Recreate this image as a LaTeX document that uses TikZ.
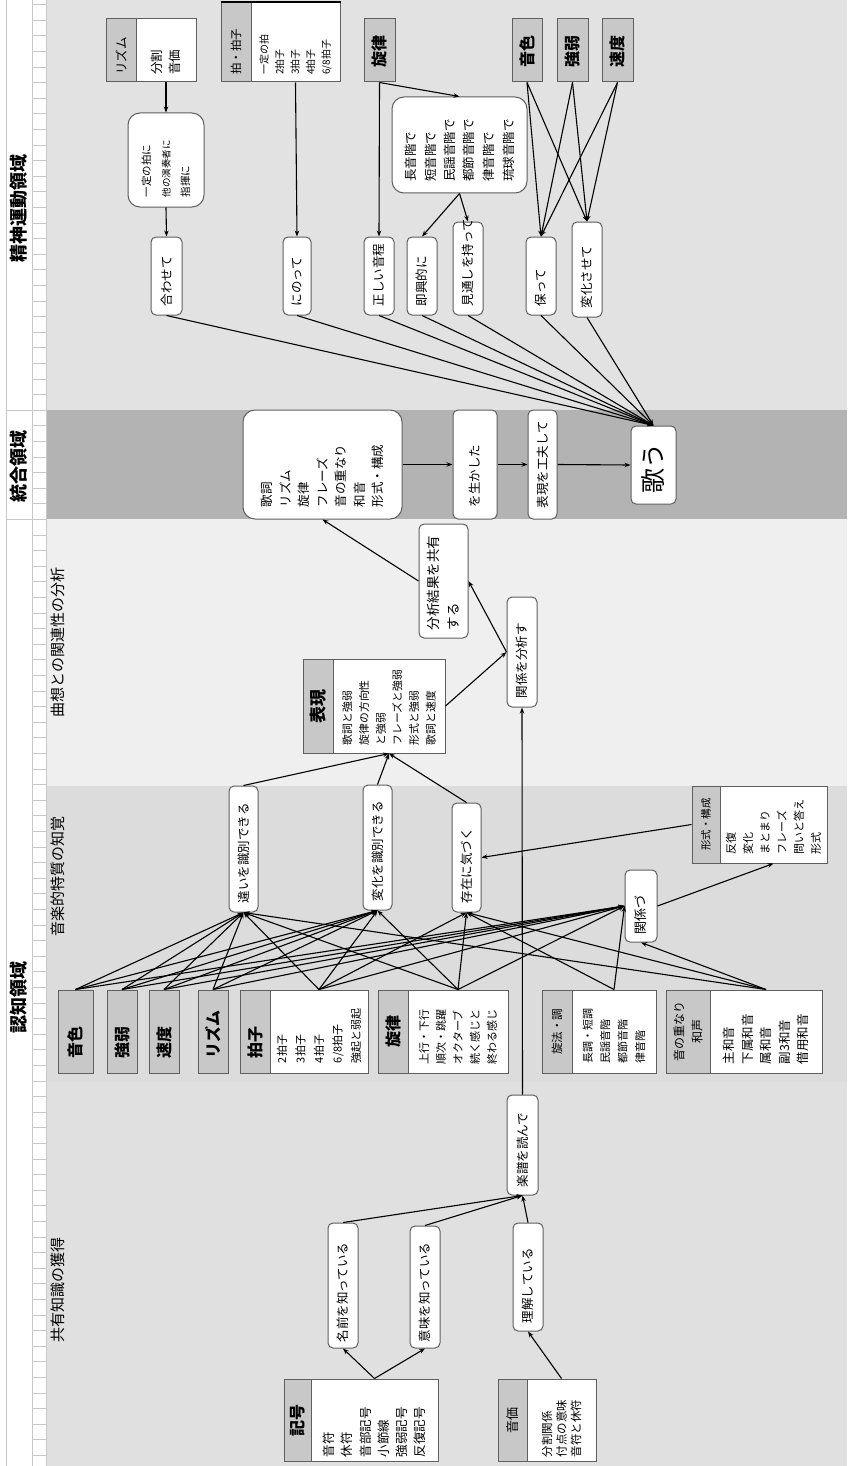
\documentclass[tikz,border=0pt]{standalone}
\usepackage{fontspec}
\setmainfont{Noto Sans CJK JP}
\usetikzlibrary{arrows.meta}
\definecolor{hdr}{RGB}{200,200,200}
\definecolor{bdr}{RGB}{95,95,95}
\definecolor{bandA}{RGB}{226,226,226}
\definecolor{bandB}{RGB}{179,179,179}
\definecolor{bandC}{RGB}{239,239,239}
\definecolor{bandD}{RGB}{220,220,220}
\definecolor{bandE}{RGB}{224,224,224}
\definecolor{rule}{RGB}{200,200,200}
\newcommand\nd[8]{%
  \pgfmathsetmacro\ndcx{(#3+#5)/2}%
  \pgfmathsetmacro\ndcy{(#4+#6)/2}%
  \pgfmathsetmacro\ndL{#6-#4}%
  \pgfmathsetmacro\ndH{#5-#3}%
  \pgfmathsetmacro\ndtw{#6-#4-2*#7}%
  \node[rotate=90,inner xsep=#7pt,inner ysep=0pt,minimum width=\ndL pt,minimum height=\ndH pt,text width=\ndtw pt,align=left,#2] (#1) at (\ndcx,\ndcy) {#8};}
\tikzset{
  box/.style={draw=bdr,line width=1pt,fill=white},
  rbox/.style={box,rounded corners=5pt},
  rbig/.style={box,rounded corners=12pt},
  hd/.style={draw=bdr,line width=1pt,fill=hdr},
  arr/.style={-{Stealth[length=6pt,width=4.5pt]},line width=1.1pt},
  fa/.style={font=\fontsize{12.5}{18}\selectfont},
  fb/.style={font=\bfseries\fontsize{16}{18}\selectfont},
}
\begin{document}
\begin{tikzpicture}[x=1pt,y=-1pt]
\useasboundingbox (0,0) rectangle (847,1466);
% bands
\fill[white] (0,0) rectangle (847,1466);
\fill[bandA] (46,0) rectangle (847,410);
\fill[bandB] (46,410) rectangle (847,519);
\fill[bandC] (46,519) rectangle (847,786);
\fill[bandD] (46,786) rectangle (847,1082);
\fill[bandE] (46,1082) rectangle (847,1466);
\draw[rule,line width=0.8pt] (6,0) -- (6,1466) (32,0) -- (32,1466) (46,0) -- (46,1466);
\foreach \i in {0,...,93} \draw[rule,line width=0.6pt] (32,4.5+\i*15.6) -- (46,4.5+\i*15.6);
\draw[rule,line width=0.8pt] (6,410) -- (46,410) (6,519) -- (46,519);
% headers
\node[rotate=90,font=\bfseries\fontsize{18}{18}\selectfont] (L1) at (19,208) {精神運動領域};
\node[rotate=90,font=\bfseries\fontsize{18}{18}\selectfont] (L2) at (19,466) {統合領域};
\node[rotate=90,font=\bfseries\fontsize{18}{18}\selectfont] (L3) at (19,997) {認知領域};
\node[rotate=90,anchor=west,inner sep=0pt,font=\fontsize{15}{15}\selectfont] (sub1) at (58,718) {曲想との関連性の分析};
\node[rotate=90,anchor=west,inner sep=0pt,font=\fontsize{15}{15}\selectfont] (sub2) at (58,937) {音楽的特質の知覚};
\node[rotate=90,anchor=west,inner sep=0pt,font=\fontsize{15}{15}\selectfont] (sub3) at (58,1343) {共有知識の獲得};

% ---------- psychomotor
\nd{rh1}{hd,fa}{106}{19}{136}{82}{7}{リズム}
\nd{rb1}{box,fa}{136}{19}{196}{82}{7}{分割\\音価}
\nd{hh}{hd,font=\fontsize{11.5}{14}\selectfont}{221}{3}{251}{82}{7}{拍・拍子}
\nd{hb}{box,font=\fontsize{10}{15.5}\selectfont}{251}{3}{340}{82}{7}{一定の拍\\2拍子\\3拍子\\4拍子\\6/8拍子}
\draw[line width=2pt] (hh.north east) -- (hb.south east);
\nd{ps}{hd,fb}{364}{19}{395}{82}{14}{旋律}
\nd{pt}{hd,fb}{512}{19}{542}{82}{14}{音色}
\nd{pk}{hd,fb}{557}{19}{588}{82}{14}{強弱}
\nd{pv}{hd,fb}{602}{19}{633}{82}{14}{速度}
\nd{itei}{rbig,font=\fontsize{10.5}{19.5}\selectfont}{128}{113}{204}{207}{10}{一定の拍に\\{\fontsize{9.5}{19.5}\selectfont 他の演奏者に}\\指揮に}
\nd{scl}{rbig,font=\fontsize{12.5}{19.5}\selectfont}{392}{97}{527}{193}{11}{長音階で\\短音階で\\民謡音階で\\都節音階で\\律音階で\\琉球音階で}
\nd{awase}{rbox,fa}{151}{237}{182}{315}{9}{合わせて}
\nd{noru}{rbox,fa}{283}{237}{311}{315}{9}{にのって}
\nd{seiko}{rbox,fa}{364}{237}{394}{315}{9}{正しい音程}
\nd{sokko}{rbox,fa}{407}{237}{437}{315}{9}{即興的に}
\nd{mito}{rbox,fa}{453}{222}{483}{315}{9}{見通しを持って}
\nd{tamo}{rbox,fa}{526}{237}{556}{315}{9}{保って}
\nd{henka}{rbox,fa}{572}{222}{602}{317}{9}{変化させて}

% ---------- integration
\nd{big}{rbig,font=\fontsize{12.5}{18.5}\selectfont}{243}{410}{402}{519}{12}{歌詞\\リズム\\旋律\\フレーズ\\音の重なり\\和音\\形式・構成}
\nd{ikashi}{rbox,fa}{453}{410}{497}{519}{12}{を生かした}
\nd{kufu}{rbox,fa}{528}{410}{557}{519}{11}{表現を工夫して}
\nd{utau}{rbox,font=\fontsize{25}{25}\selectfont}{631}{426}{676}{504}{11}{歌う}

% ---------- analysis
\nd{kyoyu}{rbox,font=\fontsize{13.5}{20}\selectfont}{419}{524}{468}{638}{8}{分析結果を共有\\する}
\nd{kankei}{rbox,fa}{507}{597}{537}{707}{9}{関係を分析す}
\nd{hyh}{hd,font=\bfseries\fontsize{17}{18}\selectfont,align=center}{303}{659}{333}{753}{8}{表現}
\nd{hyb}{box,font=\fontsize{10.8}{16.7}\selectfont}{333}{659}{445}{753}{8}{歌詞と強弱\\旋律の方向性\\と強弱\\フレーズと強弱\\形式と強弱\\歌詞と速度}

% ---------- perception
\nd{chigai}{rbox,fa}{229}{786}{258}{912}{9}{違いを識別できる}
\nd{henkaS}{rbox,fa}{363}{785}{392}{910}{9}{変化を識別できる}
\nd{sonzai}{rbox,fa}{452}{803}{481}{912}{9}{存在に気づく}
\nd{kankeizu}{rbox,font=\fontsize{13}{18}\selectfont}{625}{870}{657}{942}{8}{関係づ}
\nd{kh}{hd,font=\fontsize{10.5}{14}\selectfont,align=center}{692}{786}{720}{863}{4}{形式・構成}
\nd{kb}{box,font=\fontsize{11}{17}\selectfont}{720}{786}{827}{863}{9}{反復\\変化\\まとまり\\フレーズ\\問いと答え\\形式}
\nd{s1}{hd,fb}{58}{990}{93}{1073}{15}{音色}
\nd{s2}{hd,fb}{107}{990}{137}{1073}{15}{強弱}
\nd{s3}{hd,fb}{149}{990}{179}{1073}{15}{速度}
\nd{s4}{hd,fb}{198}{990}{228}{1073}{15}{リズム}
\nd{s5h}{hd,fb}{240}{990}{270}{1073}{15}{拍子}
\nd{s5b}{box,font=\fontsize{11}{18.5}\selectfont}{270}{990}{368}{1073}{10}{2拍子\\3拍子\\4拍子\\6/8拍子\\強起と弱起}
\nd{s6h}{hd,fb,align=center}{378}{990}{408}{1073}{8}{旋律}
\nd{s6b}{box,font=\fontsize{11}{17}\selectfont}{408}{990}{508}{1073}{9}{上行・下行\\順次・跳躍\\オクターブ\\続く感じと\\終わる感じ}
\nd{s7h}{hd,font=\fontsize{11.5}{14}\selectfont,align=center}{542}{990}{572}{1073}{4}{旋法・調}
\nd{s7b}{box,font=\fontsize{11}{17.5}\selectfont}{572}{990}{656}{1073}{10}{長調・短調\\民謡音階\\都節音階\\律音階}
\nd{s8h}{hd,font=\fontsize{12}{18}\selectfont,align=center}{666}{990}{710}{1073}{4}{音の重なり\\和声}
\nd{s8b}{box,font=\fontsize{12.5}{18.5}\selectfont}{710}{990}{822}{1073}{9}{主和音\\下属和音\\属和音\\副3和音\\借用和音}

% ---------- shared knowledge
\nd{kgh}{hd,fb,align=center}{284}{1379}{311}{1461}{4}{記号}
\nd{kgb}{box,font=\fontsize{12.5}{18.2}\selectfont}{311}{1379}{438}{1461}{4}{音符\\休符\\音部記号\\小節線\\強弱記号\\反復記号}
\nd{okh}{hd,font=\fontsize{13}{14}\selectfont,align=center}{498}{1379}{527}{1461}{4}{音価}
\nd{okb}{box,font=\fontsize{11.5}{14.5}\selectfont}{527}{1379}{596}{1461}{4}{分割関係\\付点の意味\\音符と休符}
\nd{namae}{rbox,fa}{328}{1223}{358}{1348}{6}{名前を知っている}
\nd{imi}{rbox,fa}{410}{1226}{440}{1348}{6}{意味を知っている}
\nd{rikai}{rbox,fa}{513}{1223}{543}{1331}{8}{理解している}
\nd{gakufu}{rbox,fa}{507}{1095}{538}{1195}{8}{楽譜を読んで}

% ---------- connectors: psychomotor
\draw[arr] (rb1.west) -- (itei.east);
\draw[arr] (itei.west) -- (awase.east);
\draw[arr] (hb.west) -- (noru.east);
\draw[arr] (ps.west) -- (seiko.east);
\draw[arr] (ps.west) -- (scl.east);
\draw[arr] (scl.west) -- (sokko.east);
\draw[arr] (scl.west) -- (mito.east);
\foreach \s in {pt,pk,pv} {\draw[arr] (\s.west) -- (tamo.east); \draw[arr] (\s.west) -- (henka.east);}
\foreach \s in {awase,noru,seiko,sokko,mito,tamo,henka} \draw[arr] (\s.west) -- (utau.east);
% integration
\draw[arr] (big.south) -- (ikashi.north);
\draw[arr] (ikashi.south) -- (kufu.north);
\draw[arr] (kufu.south) -- (utau.north);
% analysis
\draw[arr] (kyoyu.north) -- (big.west);
\draw[arr] (kankei.north) -- (kyoyu.south);
\draw[arr] (hyb.south) -- (kankei.north);
\draw[arr] (gakufu.east) -- (kankei.west);
% perception
\foreach \s in {chigai,henkaS,sonzai} \draw[arr] (\s.east) -- (hyb.west);
\draw[arr] (kankeizu.south) -- (kb.west);
\draw[arr] (kh.north) -- (sonzai.south);
\foreach \s in {s1,s2,s3,s4,s5b,s6b,s8b} \draw[arr] (\s.east) -- (chigai.west);
\foreach \s in {s1,s2,s3,s4,s5b,s6b} \draw[arr] (\s.east) -- (henkaS.west);
\foreach \s in {s5b,s6b,s7b,s8b} \draw[arr] (\s.east) -- (sonzai.west);
\foreach \s in {s1,s2,s3,s4,s5b,s6b,s7b} \draw[arr] (\s.east) -- (kankeizu.north);
\draw[arr] (s8b.east) -- (kankeizu.west);
% shared knowledge
\draw[arr] (kgb.east) -- (namae.west);
\draw[arr] (kgb.east) -- (imi.west);
\draw[arr] (okb.east) -- (rikai.west);
\foreach \s in {namae,imi,rikai} \draw[arr] (\s.east) -- (gakufu.west);
\end{tikzpicture}
\end{document}
